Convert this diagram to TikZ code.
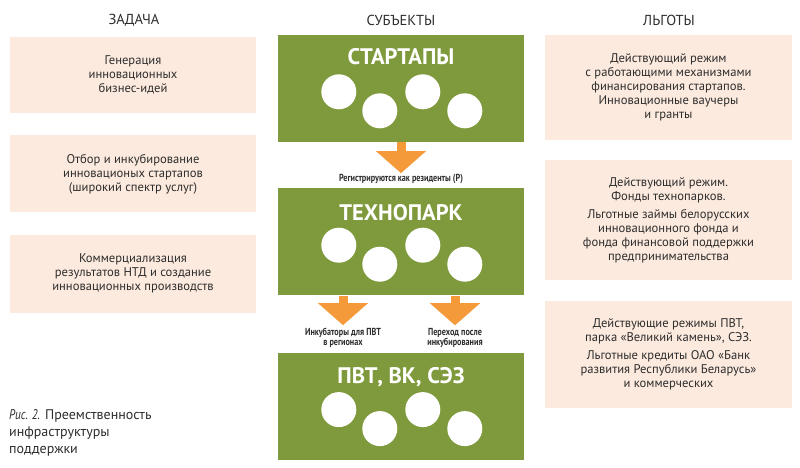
\documentclass[tikz,border=0pt]{standalone}
\usepackage{fontspec}
\setmainfont{PT Sans}
\newfontfamily\condfont[FakeStretch=0.8]{PT Sans}
\usepackage{tikz}
\usetikzlibrary{arrows.meta,positioning}
\definecolor{bzgreen}{RGB}{127,154,60}
\definecolor{bzorange}{RGB}{245,154,58}
\definecolor{bzpeach}{RGB}{252,234,222}
\definecolor{bztext}{RGB}{45,45,45}

\begin{document}
\begin{tikzpicture}[
  x=1pt, y=-1pt,
  font=\fontsize{12.6}{14}\selectfont, text=bztext,
  task/.style={fill=bzpeach, align=center, minimum width=246pt, inner sep=0pt},
  perk/.style={task, minimum width=247pt},
  subj/.style={fill=bzgreen, minimum width=246pt, minimum height=107pt, inner sep=0pt},
  head/.style={font=\fontsize{14.5}{16}\selectfont},
  title/.style={font=\fontsize{22.5}{24}\selectfont\bfseries, text=white},
  dot/.style={circle, fill=white, minimum size=35pt, inner sep=0pt},
  note/.style={font=\condfont\bfseries\fontsize{10.2}{10}\selectfont, align=center, inner sep=1pt},
  flow/.style={bzorange, line width=9pt, -{Triangle[width=50pt,length=22pt,line width=0.1pt]}}
]
\useasboundingbox (0,0) rectangle (800,468);

% column heads
\node[head] (hTask) at (134,20) {ЗАДАЧА};
\node[head] (hSubj) at (401,20) {СУБЪЕКТЫ};
\node[head] (hPerk) at (669,20) {ЛЬГОТЫ};

% tasks
\node[task, minimum height=76pt] (t1) at (133,75) {Генерация\\инновационных\\бизнес-идей};
\node[task, minimum height=77pt, below=22pt of t1] (t2)
  {Отбор и инкубирование\\инновационых стартапов\\(широкий спектр услуг)};
\node[task, minimum height=78pt, below=22pt of t2] (t3)
  {Коммерциализация\\результатов НТД и создание\\инновационных производств};

% subjects
\node[subj] (start) at (401,88.5) {};
\node[subj, below=46pt of start] (tech) {};
\node[subj, below=57pt of tech] (pvt) {};
\node[title] (startT) at ([yshift=-22pt]start.north) {СТАРТАПЫ};
\node[title] (techT) at ([yshift=-24pt]tech.north) {ТЕХНОПАРК};
\node[title] (pvtT) at ([yshift=-25pt]pvt.north) {ПВТ, ВК, СЭЗ};
\foreach \b in {start,tech,pvt}
  \foreach \i/\dx/\dy in {1/61/57, 2/102/76, 3/145/57, 4/187/76}
    \node[dot] (\b-\i) at ([xshift=\dx pt, yshift=-\dy pt]\b.north west) {};

% transitions
\node[note] (reg) at (401,179) {Регистрируются как резиденты (Р)};
\node[note] (inc) at (343,338) {Инкубаторы для ПВТ\\в регионах};
\node[note] (trans) at (455,338) {Переход после\\инкубирования};
\draw[flow] (start.south) -- (reg.north);
\draw[flow] (tech.south -| inc.north) -- ([yshift=2pt]inc.north);
\draw[flow] (tech.south -| trans.north) -- ([yshift=2pt]trans.north);

% perks
\node[perk, minimum height=105pt] (r1) at (668.5,87.5)
  {Действующий режим\\с работающими механизмами\\финансирования стартапов.\\Инновационные ваучеры\\и гранты};
\node[perk, minimum height=120pt, below=20pt of r1] (r2)
  {Действующий режим.\\Фонды технопарков.\\[4pt]Льготные займы белорусских\\инновационного фонда и\\фонда финансовой поддержки\\предпринимательства};
\node[perk, minimum height=107pt, below=20pt of r2] (r3)
  {Действующие режимы ПВТ,\\парка «Великий камень», СЭЗ.\\[4pt]Льготные кредиты ОАО «Банк\\развития Республики Беларусь»\\и коммерческих};

% caption
\node[anchor=north west, align=left, inner sep=0pt, font=\fontsize{14}{17}\selectfont] (cap)
  at (9,409) {{\condfont\itshape Рис. 2.} Преемственность\\инфраструктуры\\поддержки};

\end{tikzpicture}
\end{document}
